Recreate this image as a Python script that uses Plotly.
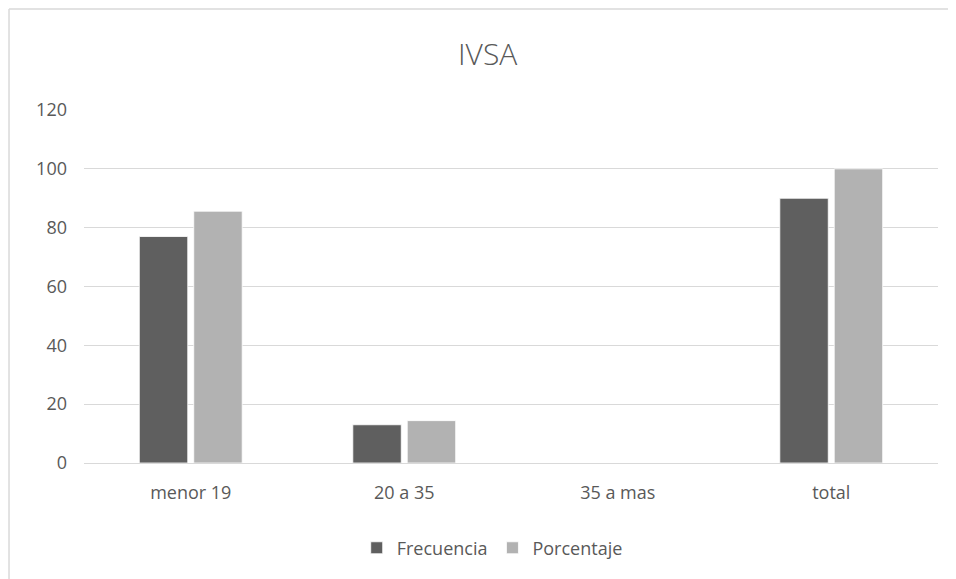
import plotly.graph_objects as go

categorias = ["menor 19", "20 a 35", "35 a mas", "total"]
frecuencia = [77, 13, 0, 90]
porcentaje = [85.6, 14.4, 0, 100]

_FUENTE = "Open Sans, Lato, sans-serif"
_GRIS_TEXTO = "#595959"
_BORDE = "#d9d9d9"
_CORES = {"Frecuencia": "#5f5f5f", "Porcentaje": "#b2b2b2"}

fig = go.Figure()
for nombre, valores in (("Frecuencia", frecuencia), ("Porcentaje", porcentaje)):
    fig.add_trace(go.Bar(
        name=nombre,
        x=categorias,
        y=valores,
        marker_color=_CORES[nombre],
        marker_line=dict(color="#ffffff", width=0.8),
    ))

# la página añade 8px de margen al body: la figura se achica para no desbordar
fig.update_layout(
    width=948,
    height=571,
    barmode="group",
    bargap=0.49,
    bargroupgap=0.11,
    paper_bgcolor="white",
    plot_bgcolor="white",
    margin=dict(l=76, r=18, t=102, b=116),
    font=dict(family=_FUENTE, color=_GRIS_TEXTO, size=18),
    title=dict(
        text="IVSA",
        x=0.506, xanchor="center",
        y=0.9186, yanchor="middle",
        font=dict(family=_FUENTE, size=30, color=_GRIS_TEXTO, weight=300),
    ),
    xaxis=dict(
        showgrid=False, showline=False, ticks="",
        tickfont=dict(size=18, color=_GRIS_TEXTO),
        ticklabelstandoff=17,
    ),
    yaxis=dict(
        range=[0, 120], dtick=20,
        gridcolor=_BORDE, gridwidth=1,
        zeroline=True, zerolinecolor=_BORDE, zerolinewidth=1,
        showline=False, ticks="",
        tickfont=dict(size=18, color=_GRIS_TEXTO),
        ticklabelstandoff=16,
    ),
    legend=dict(
        orientation="h",
        x=0.478, xanchor="center",
        y=-0.241, yanchor="middle",
        font=dict(size=18, color=_GRIS_TEXTO),
        itemwidth=30,
    ),
    # marco del gráfico: solo borde superior e izquierdo quedan a la vista
    shapes=[
        dict(type="line", xref="paper", yref="paper",
             x0=-0.0878, x1=1.3, y0=1.286, y1=1.286,
             line=dict(color=_BORDE, width=1.5), layer="below"),
        dict(type="line", xref="paper", yref="paper",
             x0=-0.0878, x1=-0.0878, y0=-0.6, y1=1.286,
             line=dict(color=_BORDE, width=1.5), layer="below"),
    ],
)

fig.write_html("out.html")
